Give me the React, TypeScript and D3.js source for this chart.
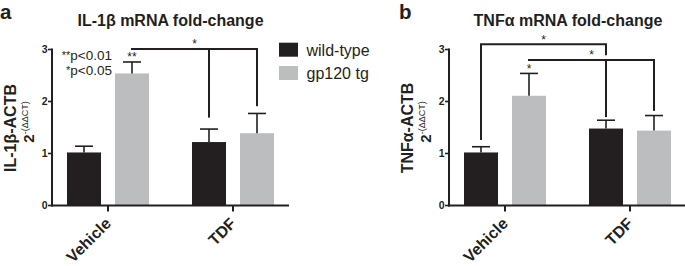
import React from "react";
import * as d3 from "d3";

const groups = ["Vehicle", "TDF"];
const seriesNames = ["wild-type", "gp120 tg"];
const seriesColors = ["#231f20", "#bcbdbf"];
const yTicks = [0, 1, 2, 3];

// IL-1beta panel
const il1bWildType = [1.02, 1.22];
const il1bWildTypeErr = [0.12, 0.25];
const il1bGp120 = [2.54, 1.39];
const il1bGp120Err = [0.22, 0.38];

// TNF-alpha panel
const tnfWildType = [1.02, 1.48];
const tnfWildTypeErr = [0.11, 0.16];
const tnfGp120 = [2.11, 1.44];
const tnfGp120Err = [0.43, 0.29];

type Drop = { group: string; series: string; bottom: number | null };
type Bracket = { y: number; ends: Drop[]; label: string };

const il1bBrackets: Bracket[] = [
  {
    y: 3.01,
    label: "*",
    ends: [
      { group: "Vehicle", series: "gp120 tg", bottom: null },
      { group: "TDF", series: "wild-type", bottom: 1.69 },
      { group: "TDF", series: "gp120 tg", bottom: 1.91 },
    ],
  },
];
const tnfBrackets: Bracket[] = [
  {
    y: 3.1,
    label: "*",
    ends: [
      { group: "Vehicle", series: "wild-type", bottom: 1.26 },
      { group: "TDF", series: "wild-type", bottom: 2.89 },
    ],
  },
  {
    y: 2.8,
    label: "*",
    ends: [
      { group: "Vehicle", series: "gp120 tg", bottom: null },
      { group: "TDF", series: "wild-type", bottom: 1.7 },
      { group: "TDF", series: "gp120 tg", bottom: 1.82 },
    ],
  },
];

const il1bBarStars = [{ group: "Vehicle", series: "gp120 tg", label: "**" }];
const tnfBarStars = [{ group: "Vehicle", series: "gp120 tg", label: "*" }];

const FONT = "'Liberation Sans', Arial, Helvetica, sans-serif";

type PanelProps = {
  x0: number;
  letter: string;
  letterX: number;
  title: React.ReactNode;
  titleX: number;
  yMain: React.ReactNode;
  wt: number[];
  wtErr: number[];
  gp: number[];
  gpErr: number[];
  brackets: Bracket[];
  barStars: { group: string; series: string; label: string }[];
  extra?: React.ReactNode;
};

function Panel(p: PanelProps) {
  const y = d3.scaleLinear().domain([0, 3]).range([205.5, 49.5]);
  const xG = d3
    .scaleBand()
    .domain(groups)
    .range([p.x0 - 6.5, p.x0 + 243.5])
    .padding(0);
  const xS = d3
    .scaleBand()
    .domain(seriesNames)
    .range([-41, 41])
    .paddingInner(0.2917);
  const center = (g: string, s: string) =>
    (xG(g) as number) + xG.bandwidth() / 2 + (xS(s) as number) + xS.bandwidth() / 2;
  const means = [p.wt, p.gp];
  const errs = [p.wtErr, p.gpErr];
  const valueOf = (g: string, s: string) => {
    const si = seriesNames.indexOf(s);
    const gi = groups.indexOf(g);
    return means[si][gi] + errs[si][gi];
  };
  const axisEnd = p.x0 + 237;
  return (
    <g fontFamily={FONT}>
      <text x={p.letterX} y={18.5} fontSize={20.5} fontWeight="bold" fill="#231f20">
        {p.letter}
      </text>
      <text x={p.titleX} y={26} fontSize={16} fontWeight="bold" textAnchor="middle" fill="#231f20">
        {p.title}
      </text>
      {/* bars */}
      {seriesNames.map((s, si) =>
        groups.map((g, gi) => {
          const cx = center(g, s);
          const bw = xS.bandwidth();
          const m = means[si][gi];
          const top = m + errs[si][gi];
          return (
            <g key={s + g}>
              <rect x={cx - bw / 2} y={y(m)} width={bw} height={y(0) - y(m)} fill={seriesColors[si]} />
              <line x1={cx} x2={cx} y1={y(m)} y2={y(top)} stroke="#231f20" strokeWidth={1.6} />
              <line x1={cx - 9} x2={cx + 9} y1={y(top)} y2={y(top)} stroke="#231f20" strokeWidth={1.6} />
            </g>
          );
        })
      )}
      {/* axes */}
      <line x1={p.x0} x2={p.x0} y1={y(3) - 1} y2={y(0) + 1} stroke="#231f20" strokeWidth={2} />
      <line x1={p.x0 - 1} x2={axisEnd} y1={y(0)} y2={y(0)} stroke="#231f20" strokeWidth={2} />
      {yTicks.map((t) => (
        <g key={t}>
          <line x1={p.x0 - 4} x2={p.x0} y1={y(t)} y2={y(t)} stroke="#231f20" strokeWidth={1.6} />
          <text x={p.x0 - 4.5} y={y(t) + 3.8} fontSize={10.5} fontWeight="bold" textAnchor="end" fill="#231f20">
            {t}
          </text>
        </g>
      ))}
      {groups.map((g) => {
        const gx = (xG(g) as number) + xG.bandwidth() / 2;
        return (
          <g key={g}>
            <line x1={gx} x2={gx} y1={y(0)} y2={y(0) + 6} stroke="#231f20" strokeWidth={2} />
            <text
              transform={`translate(${gx + 4},${y(0) + 19}) rotate(-45)`}
              fontSize={16}
              fontWeight="bold"
              textAnchor="end"
              fill="#231f20"
            >
              {g}
            </text>
          </g>
        );
      })}
      {/* y labels */}
      <text transform={`translate(${p.x0 - 36},128) rotate(-90)`} fontSize={16} fontWeight="bold" textAnchor="middle" fill="#231f20">
        {p.yMain}
      </text>
      <text transform={`translate(${p.x0 - 18.5},122) rotate(-90)`} textAnchor="middle" fill="#231f20">
        <tspan fontSize={15} fontWeight="bold">2</tspan>
        <tspan fontSize={9} dy={-5.5}>-(ΔΔCT)</tspan>
      </text>
      {/* brackets */}
      {p.brackets.map((b, i) => {
        const xs = b.ends.map((e) => center(e.group, e.series));
        const xmin = d3.min(xs) as number;
        const xmax = d3.max(xs) as number;
        return (
          <g key={i}>
            <line x1={xmin - 1} x2={xmax + 1} y1={y(b.y)} y2={y(b.y)} stroke="#231f20" strokeWidth={2} />
            {b.ends.map((e, j) =>
              e.bottom === null ? null : (
                <line key={j} x1={xs[j]} x2={xs[j]} y1={y(b.y)} y2={y(e.bottom)} stroke="#231f20" strokeWidth={2} />
              )
            )}
            <text x={(xmin + xmax) / 2} y={y(b.y) - 0.5} fontSize={12} textAnchor="middle" fill="#231f20">
              {b.label}
            </text>
          </g>
        );
      })}
      {p.barStars.map((s, i) => (
        <text
          key={i}
          x={center(s.group, s.series)}
          y={y(valueOf(s.group, s.series)) - 0.5}
          fontSize={12}
          textAnchor="middle"
          fill="#231f20"
        >
          {s.label}
        </text>
      ))}
      {p.extra}
    </g>
  );
}

export default function App() {
  return (
    <svg
      width={685}
      height={266}
      style={{ position: "absolute", left: 0, top: 0, background: "#fff" }}
    >
      <rect width={685} height={266} fill="#fff" />
      <Panel
        x0={52}
        letter="a"
        letterX={0}
        title={<>IL-1β mRNA fold-change</>}
        titleX={170.5}
        yMain={<>IL-1β-ACTB</>}
        wt={il1bWildType}
        wtErr={il1bWildTypeErr}
        gp={il1bGp120}
        gpErr={il1bGp120Err}
        brackets={il1bBrackets}
        barStars={il1bBarStars}
        extra={
          <g fontFamily={FONT} fill="#231f20">
            <text x={112} y={60.3} fontSize={13.5} textAnchor="end">
              <tspan fontSize={11} dy={-1.5}>**</tspan>
              <tspan dy={1.5}>p&lt;0.01</tspan>
            </text>
            <text x={112} y={75.3} fontSize={13.5} textAnchor="end">
              <tspan fontSize={11} dy={-1.5}>*</tspan>
              <tspan dy={1.5}>p&lt;0.05</tspan>
            </text>
          </g>
        }
      />
      <Panel
        x0={449}
        letter="b"
        letterX={399}
        title={<>TNFα mRNA fold-change</>}
        titleX={568}
        yMain={<>TNFα-ACTB</>}
        wt={tnfWildType}
        wtErr={tnfWildTypeErr}
        gp={tnfGp120}
        gpErr={tnfGp120Err}
        brackets={tnfBrackets}
        barStars={tnfBarStars}
      />
      {/* legend */}
      <g fontFamily={FONT}>
        {seriesNames.map((s, i) => (
          <g key={s} transform={`translate(279,${42.7 + i * 23.3})`}>
            <rect width={19} height={14} fill={seriesColors[i]} />
            <text x={27.5} y={13} fontSize={16} fill="#231f20">
              {s}
            </text>
          </g>
        ))}
      </g>
    </svg>
  );
}
